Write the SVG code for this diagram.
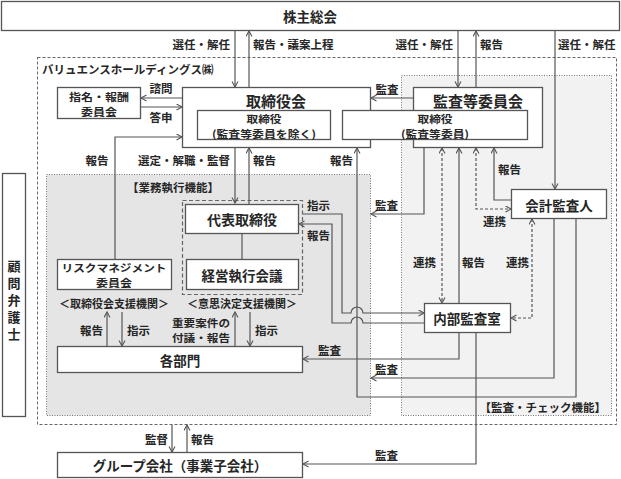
<svg xmlns="http://www.w3.org/2000/svg" width="621" height="479" viewBox="0 0 621 479">
<style>
text{font-family:"Noto Sans CJK JP","Noto Sans CJK SC",sans-serif;font-weight:700;fill:#262626;font-size:11.5px;dominant-baseline:central}
.c{text-anchor:middle}
.e{text-anchor:end}
.box{fill:#fff;stroke:#555;stroke-width:1.3}
.ln{fill:none;stroke:#555;stroke-width:1.2}
.dl{fill:none;stroke:#555;stroke-width:1.2;stroke-dasharray:3,2}
.big{font-size:15px}
.mid{font-size:13.5px}
.t{font-size:10.3px}
.vt{font-size:13px;writing-mode:vertical-rl;letter-spacing:4px}
</style>
<defs>
<marker id="a" markerWidth="8" markerHeight="8" refX="6" refY="3.5" orient="auto-start-reverse" markerUnits="userSpaceOnUse">
<path d="M0.5,0.5 L6,3.5 L0.5,6.5" fill="none" stroke="#555" stroke-width="1.1" stroke-dasharray="none"/>
</marker>
</defs>
<rect width="621" height="479" fill="#fff"/>
<g id="areas">
<rect x="37.5" y="57.5" width="579" height="367" fill="#fff" stroke="#666" stroke-width="1" stroke-dasharray="3,2"/>
<rect x="46.5" y="174.5" width="324" height="241" fill="#e5e5e5" stroke="#777" stroke-width="1" stroke-dasharray="1,1.5"/>
<rect x="401.5" y="75.5" width="210" height="340" fill="#f2f2f2" stroke="#777" stroke-width="1" stroke-dasharray="1,1.5"/>
<rect x="182.5" y="200.5" width="120" height="94" fill="none" stroke="#666" stroke-width="1.2" stroke-dasharray="4,2.5"/>
<text x="42" y="69">バリュエンスホールディングス㈱</text>
<text class="c" x="173" y="187">【業務執行機能】</text>
<text class="e" x="606" y="407">【監査・チェック機能】</text>
<text class="c" x="114" y="303" style="font-size:11px">＜取締役会支援機関＞</text>
<text class="c" x="242" y="303" style="font-size:11px">＜意思決定支援機関＞</text>
</g>
<g id="connectors">
<path class="ln" d="M235,31 V87" marker-end="url(#a)"/>
<path class="ln" d="M249,87 V31" marker-end="url(#a)"/>
<path class="ln" d="M458,31 V87" marker-end="url(#a)"/>
<path class="ln" d="M476,87 V31" marker-end="url(#a)"/>
<path class="ln" d="M555,31 V189" marker-end="url(#a)"/>
<path class="ln" d="M182,98 H141" marker-end="url(#a)"/>
<path class="ln" d="M141,107 H182" marker-end="url(#a)"/>
<path class="ln" d="M115,259 V137 H182" marker-end="url(#a)"/>
<path class="ln" d="M413,98 H371" marker-end="url(#a)"/>
<path class="ln" d="M235,148 V203" marker-end="url(#a)"/>
<path class="ln" d="M249,204 V148" marker-end="url(#a)"/>
<path class="ln" d="M242,234 V259"/>
<path class="ln" d="M424,148 V214 H371" marker-end="url(#a)"/>
<path class="dl" d="M442,148 V303" marker-start="url(#a)" marker-end="url(#a)"/>
<path class="ln" d="M459,303 V148" marker-end="url(#a)"/>
<path class="dl" d="M476,148 V209 H511" marker-start="url(#a)" marker-end="url(#a)"/>
<path class="ln" d="M511,200 H494 V148" marker-end="url(#a)"/>
<path class="dl" d="M532,219 V318 H511" marker-start="url(#a)" marker-end="url(#a)"/>
<path class="ln" d="M303,214 H342 V313 H351 A6,6 0 0 1 363,313 H424" marker-end="url(#a)"/>
<path class="ln" d="M424,323 H363 A6,6 0 0 0 351,323 H332 V224 H299" marker-end="url(#a)"/>
<path class="ln" d="M576,219 V397 H357 V148" marker-end="url(#a)"/>
<path class="ln" d="M554,219 V378 H371" marker-end="url(#a)"/>
<path class="ln" d="M459,333 V359 H303" marker-end="url(#a)"/>
<path class="ln" d="M476,333 V464 H303" marker-end="url(#a)"/>
<path class="ln" d="M107,346 V312" marker-end="url(#a)"/>
<path class="ln" d="M122,312 V346" marker-end="url(#a)"/>
<path class="ln" d="M235,346 V312" marker-end="url(#a)"/>
<path class="ln" d="M250,312 V346" marker-end="url(#a)"/>
<path class="ln" d="M172,425 V452" marker-end="url(#a)"/>
<path class="ln" d="M187,452 V425" marker-end="url(#a)"/>
</g>
<g id="labels">
<text class="e" x="230" y="44">選任・解任</text>
<text x="253" y="44">報告・議案上程</text>
<text class="e" x="453" y="44">選任・解任</text>
<text x="480" y="44">報告</text>
<text x="558" y="44">選任・解任</text>
<text class="c" x="161" y="88">諮問</text>
<text class="c" x="161" y="117">答申</text>
<text class="c" x="387" y="89">監査</text>
<text class="c" x="97" y="160">報告</text>
<text class="e" x="230" y="160">選定・解職・監督</text>
<text x="253" y="160">報告</text>
<text x="330" y="160">報告</text>
<text x="498" y="169">報告</text>
<text x="307" y="205">指示</text>
<text x="375" y="205">監査</text>
<text x="483" y="221">連携</text>
<text x="307" y="235">報告</text>
<text x="413" y="262">連携</text>
<text x="462" y="262">報告</text>
<text x="506" y="262">連携</text>
<text x="80" y="330">報告</text>
<text x="127" y="330">指示</text>
<text class="c t" x="201" y="322" textLength="58" lengthAdjust="spacingAndGlyphs">重要案件の</text>
<text class="c t" x="201" y="337" textLength="58" lengthAdjust="spacingAndGlyphs">付議・報告</text>
<text x="255" y="330">指示</text>
<text x="318" y="350">監査</text>
<text x="375" y="369">監査</text>
<text class="e" x="168" y="439">監督</text>
<text x="191" y="439">報告</text>
<text x="375" y="455">監査</text>
</g>
<g id="shareholders">
<rect class="box" x="1.5" y="1.5" width="618" height="29"/>
<text class="c mid" x="310" y="16">株主総会</text>
</g>
<g id="nomination">
<rect class="box" x="57.5" y="87.5" width="83" height="31"/>
<text class="c t" x="99" y="96" textLength="60" lengthAdjust="spacingAndGlyphs">指名・報酬</text>
<text class="c t" x="99" y="111" textLength="36" lengthAdjust="spacingAndGlyphs">委員会</text>
</g>
<g id="board">
<rect class="box" x="182.5" y="87.5" width="188" height="60"/>
<text class="c big" x="276" y="100">取締役会</text>
</g>
<g id="audit-committee">
<rect class="box" x="413.5" y="87.5" width="129" height="60"/>
<text class="c big" x="478" y="100">監査等委員会</text>
</g>
<g id="directors">
<rect class="box" x="197.5" y="110.5" width="133" height="29"/>
<text class="c t" x="264" y="118" textLength="35" lengthAdjust="spacingAndGlyphs">取締役</text>
<text class="c t" x="264" y="133" textLength="104" lengthAdjust="spacingAndGlyphs">(監査等委員を除く)</text>
</g>
<g id="audit-directors">
<rect class="box" x="342.5" y="110.5" width="185" height="29"/>
<text class="c t" x="435" y="118" textLength="35" lengthAdjust="spacingAndGlyphs">取締役</text>
<text class="c t" x="435" y="133" textLength="68" lengthAdjust="spacingAndGlyphs">(監査等委員)</text>
</g>
<g id="ceo">
<rect class="box" x="185.5" y="204.5" width="113" height="29"/>
<text class="c mid" x="242" y="219" style="font-size:14px">代表取締役</text>
</g>
<g id="management-meeting">
<rect class="box" x="186.5" y="259.5" width="112" height="30"/>
<text class="c mid" x="242" y="275">経営執行会議</text>
</g>
<g id="risk">
<rect class="box" x="57.5" y="259.5" width="114" height="30"/>
<text class="c t" x="114" y="267" textLength="105" lengthAdjust="spacingAndGlyphs">リスクマネジメント</text>
<text class="c t" x="114" y="282" textLength="36" lengthAdjust="spacingAndGlyphs">委員会</text>
</g>
<g id="auditor">
<rect class="box" x="511.5" y="189.5" width="95" height="29"/>
<text class="c mid" x="559" y="205">会計監査人</text>
</g>
<g id="internal-audit">
<rect class="box" x="424.5" y="303.5" width="86" height="29"/>
<text class="c mid" x="467" y="318">内部監査室</text>
</g>
<g id="departments">
<rect class="box" x="57.5" y="346.5" width="245" height="26"/>
<text class="c mid" x="180" y="360">各部門</text>
</g>
<g id="group">
<rect class="box" x="57.5" y="452.5" width="245" height="25"/>
<text class="c mid" x="180" y="465">グループ会社（事業子会社）</text>
</g>
<g id="lawyer">
<rect class="box" x="2.5" y="173.5" width="23" height="243"/>
<text class="c vt" x="14" y="302">顧問弁護士</text>
</g>
</svg>
